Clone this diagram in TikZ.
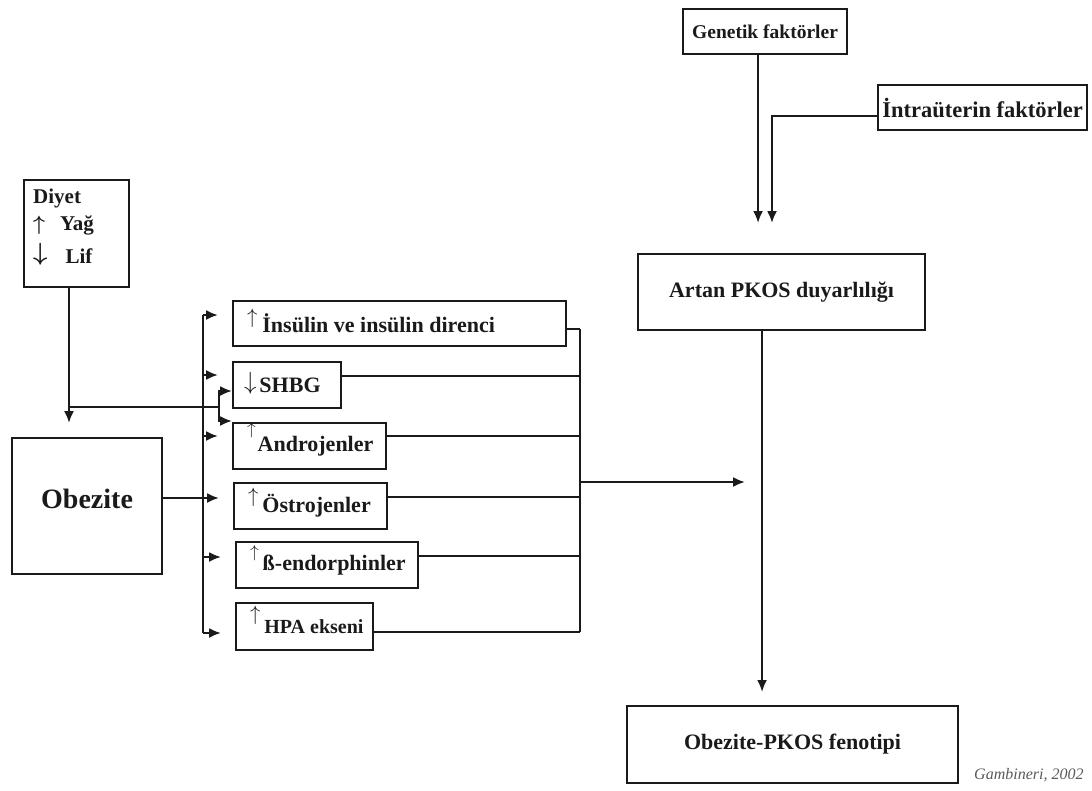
\documentclass[tikz,border=0pt]{standalone}
\usepackage{fontspec}
\setmainfont{Liberation Serif}
\usetikzlibrary{arrows.meta,calc}
\definecolor{ink}{HTML}{1A1A1A}
\definecolor{note}{HTML}{5A5A5A}
% thin arrow set in front of a label: #1 raise, #2 size
\newcommand\uparr[2]{\smash{\raisebox{#1pt}{\fontsize{#2}{#2}\selectfont$\uparrow$}}}
\newcommand\dnarr[2]{\smash{\raisebox{#1pt}{\fontsize{#2}{#2}\selectfont$\downarrow$}}}
% heavier arrows for the diet list
\newcommand\bupl[2]{\smash{\raisebox{#1pt}{\fontsize{#2}{#2}\selectfont\mathversion{bold}$\uparrow$}}}
\newcommand\bdnl[2]{\smash{\raisebox{#1pt}{\fontsize{#2}{#2}\selectfont\mathversion{bold}$\downarrow$}}}
% label box: #1 inner width
\newcommand\lbl[2]{\makebox[#1pt][l]{#2}}
\begin{document}
\begin{tikzpicture}[x=1pt,y=-1pt,
  box/.style={draw=ink,line width=2.1pt,inner sep=0pt,text=ink,
    font=\bfseries\fontsize{22}{26}\selectfont},
  lbox/.style={box,anchor=north west,inner xsep=14pt},
  txt/.style={anchor=base west,inner sep=0pt,text=ink,
    font=\bfseries\fontsize{21}{26}\selectfont},
  link/.style={draw=ink,line width=2.1pt},
  arr/.style={link,-{Latex[length=12pt,width=10pt]}},
]
\useasboundingbox (0,0) rectangle (1092,790);

% ---- left column
\node[box,anchor=north west,minimum width=105pt,minimum height=107pt]
  (diyet) at (23,179) {};
\node[txt] (d1) at (33,203) {Diyet};
\node[txt] (d2) at (33,230) {\bupl{0}{21}\hspace{15pt}Yağ};
\node[txt] (d3) at (33,263) {\bdnl{3}{26}\hspace{18pt}Lif};
\node[box,anchor=north west,minimum width=150pt,minimum height=136pt,
  text height=14pt,text depth=10pt,font=\bfseries\fontsize{28}{30}\selectfont]
  (obez) at (11,437) {Obezite};

% ---- middle column of factors
\node[lbox,minimum height=45pt] (ins) at (232,300)
  {\lbl{305}{\uparr{9}{22}\hspace{5pt}İnsülin ve insülin direnci}};
\node[lbox,minimum height=46pt] (shbg) at (232,361)
  {\lbl{80}{\hspace{-3pt}\dnarr{3}{27}\hspace{3pt}SHBG}};
\node[lbox,minimum height=46pt] (andro) at (232,422)
  {\lbl{125}{\uparr{17}{17}\hspace{2pt}Androjenler}};
\node[lbox,minimum height=46pt] (ostro) at (233,482)
  {\lbl{125}{\uparr{10}{22}\hspace{4pt}Östrojenler}};
\node[lbox,minimum height=46pt] (beta) at (235,541)
  {\lbl{154}{\uparr{13}{17}\hspace{4pt}ß-endorphinler}};
\node[lbox,minimum height=47pt,font=\bfseries\fontsize{20}{24}\selectfont] (hpa)
  at (235,602) {\lbl{109}{\uparr{12.5}{20}\hspace{4pt}HPA ekseni}};

% ---- right column
\node[box,anchor=north west,minimum width=164pt,minimum height=45pt,
  font=\bfseries\fontsize{19.5}{22}\selectfont] (gen) at (682,8) {Genetik faktörler};
\node[box,anchor=north west,minimum width=209pt,minimum height=45pt,
  font=\bfseries\fontsize{22.5}{26}\selectfont] (intra) at (877,84)
  {İntraüterin faktörler};
\node[box,anchor=north west,minimum width=287pt,minimum height=76pt] (artan)
  at (637,253) {Artan PKOS duyarlılığı};
\node[box,anchor=north west,minimum width=331pt,minimum height=77pt] (obpk)
  at (626,705) {Obezite-PKOS fenotipi};
\node[anchor=base west,inner sep=0pt,text=note,
  font=\itshape\fontsize{16}{18}\selectfont] (src) at (974,779) {Gambineri, 2002};

% ---- diet feeds obesity and splits to SHBG / androgens
\coordinate (dj) at (69,407);
\coordinate (sj) at (219,407);
\coordinate (sj1) at (219,391);
\coordinate (sj2) at (219,421);
\draw[arr,shorten >=14pt] (diyet.south -| dj) -- (dj |- obez.north);
\draw[link] (dj) -- (sj);
\draw[arr] (sj) |- (sj1 -| shbg.west);
\draw[arr] (sj) |- (sj2 -| andro.west);

% ---- obesity bus to the factors
\coordinate (L1) at (203,315);
\coordinate (L2) at (203,375);
\coordinate (L3) at (203,436);
\coordinate (L4) at (203,498);
\coordinate (L5) at (203,557);
\coordinate (L6) at (203,633);
\draw[link] (L1) -- (L6);
\draw[link] (obez.east |- L4) -- (L4);
\foreach \c/\n in {L1/ins,L2/shbg,L3/andro,L4/ostro,L5/beta,L6/hpa}
  \draw[arr,shorten >=14pt] (\c) -- (\c -| \n.west);

% ---- factors collected on the right bus
\coordinate (R1) at (580,329);
\coordinate (R2) at (580,376);
\coordinate (R3) at (580,436);
\coordinate (R4) at (580,497);
\coordinate (R5) at (580,556);
\coordinate (R6) at (580,632);
\draw[link] (R1) -- (R6);
\foreach \c/\n in {R1/ins,R2/shbg,R3/andro,R4/ostro,R5/beta,R6/hpa}
  \draw[link] (\n.east |- \c) -- (\c);
\coordinate (Rout) at (580,482);
\coordinate (ax) at ($(artan.south)+(-19.5,0)$);
\draw[arr,shorten >=17pt] (Rout) -- (Rout -| ax);

% ---- causes of susceptibility and its outcome
\coordinate (gx) at ($(gen.south)+(-7,0)$);
\coordinate (I1) at (772,116);
\draw[arr,shorten >=30pt] (gx) -- (gx |- artan.north);
\draw[arr,shorten >=30pt] (intra.west |- I1) -- (I1) -- (I1 |- artan.north);
\draw[arr,shorten >=13pt] (ax) -- (ax |- obpk.north);
\end{tikzpicture}
\end{document}
